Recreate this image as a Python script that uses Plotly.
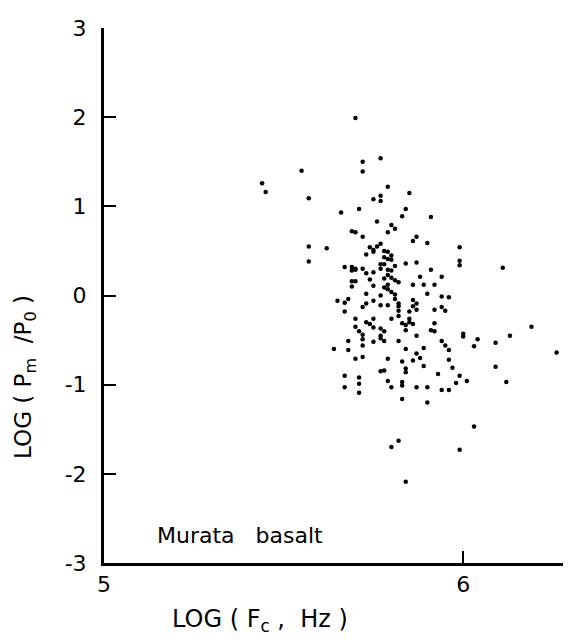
import plotly.graph_objects as go

# LOG(Fc, Hz) values
x_logfc = [
    5.70, 5.72, 5.72, 5.55, 5.44, 5.45, 5.57, 5.71, 5.66, 5.69, 5.70,
    5.77, 5.79, 5.85, 5.77, 5.75, 5.77, 5.84, 5.83, 5.91, 5.76, 5.80, 5.81, 5.79,
    5.72, 5.86, 5.87, 5.77, 5.76, 5.74, 5.75, 5.75, 5.78, 5.79, 5.73, 5.80, 5.78, 5.79, 5.80,
    5.78, 5.77, 5.81, 5.84, 5.87, 5.67, 5.69, 5.70, 5.69, 5.70, 5.72, 5.77, 5.79, 5.80,
    5.73, 5.75, 5.79, 5.80, 5.78, 5.81, 5.82, 5.74, 5.69, 5.70, 5.69, 5.75, 5.79, 5.86,
    5.79, 5.78, 5.80, 5.73, 5.77, 5.81, 5.65, 5.67, 5.68, 5.75, 5.81, 5.82, 5.86, 5.87,
    5.73, 5.72, 5.77, 5.79, 5.82, 5.86, 5.87, 5.67, 5.82, 5.85, 5.70, 5.75, 5.80, 5.82,
    5.73, 5.74, 5.85, 5.85, 5.83, 5.84, 5.86, 5.75, 5.77, 5.70, 5.71, 5.78, 5.84,
    5.57, 5.62, 5.57, 5.64,
    5.90, 5.99, 5.99, 5.99, 6.11, 5.91, 5.88, 5.94, 5.89, 5.92, 5.90, 5.94, 5.96, 5.92,
    5.94, 5.95, 5.92, 6.19, 5.91, 5.92,
    5.72, 5.72, 5.77, 5.77, 5.78, 5.75, 5.82, 5.87, 5.68, 5.72, 5.68, 5.84, 5.89, 5.87,
    5.88, 5.70, 5.72, 5.79, 5.83, 5.86, 5.89, 5.84, 5.84, 5.77, 5.78, 5.67, 5.71, 5.79,
    5.83, 5.83, 5.71, 5.67, 5.80, 5.87, 5.90, 5.71, 5.83, 5.90,
    6.00, 6.00, 6.04, 6.13, 5.94, 5.95, 5.96, 6.03, 6.09, 6.26, 5.96, 5.97, 6.09, 5.93,
    5.99, 6.01, 5.98, 6.12, 5.94, 5.96, 6.03,
    5.82, 5.80, 5.99, 5.84,
]

# LOG(Pm/P0) values
y_logp = [
    1.99, 1.50, 1.39, 1.40, 1.26, 1.16, 1.09, 0.97, 0.93, 0.72, 0.71,
    1.54, 1.22, 1.15, 1.12, 1.08, 1.06, 0.97, 0.89, 0.88, 0.83, 0.79, 0.75, 0.71,
    0.66, 0.61, 0.66, 0.58, 0.55, 0.54, 0.51, 0.49, 0.50, 0.49, 0.46, 0.45, 0.43, 0.41, 0.40,
    0.35, 0.35, 0.33, 0.36, 0.37, 0.32, 0.32, 0.29, 0.28, 0.30, 0.30, 0.30, 0.29, 0.28,
    0.25, 0.26, 0.23, 0.20, 0.19, 0.17, 0.15, 0.18, 0.16, 0.16, 0.10, 0.11, 0.12, 0.12,
    0.07, 0.09, 0.04, 0.02, 0.00, 0.01, -0.06, -0.08, -0.04, -0.06, -0.04, -0.09, -0.05, -0.09,
    -0.09, -0.13, -0.11, -0.11, -0.12, -0.12, -0.16, -0.18, -0.17, -0.18, -0.26, -0.26, -0.26, -0.23,
    -0.30, -0.32, -0.26, -0.30, -0.31, -0.33, -0.32, -0.36, -0.37, -0.35, -0.40, -0.40, -0.39,
    0.55, 0.53, 0.38, -0.60,
    0.59, 0.54, 0.39, 0.34, 0.31, 0.29, 0.21, 0.21, 0.12, 0.12, 0.02, -0.01, -0.02, -0.16,
    -0.13, -0.17, -0.31, -0.35, -0.39, -0.40,
    -0.44, -0.49, -0.45, -0.48, -0.51, -0.52, -0.51, -0.45, -0.51, -0.56, -0.61, -0.60, -0.59, -0.65,
    -0.70, -0.71, -0.69, -0.71, -0.74, -0.73, -0.79, -0.82, -0.86, -0.85, -0.84, -0.90, -0.92, -0.96,
    -0.97, -1.01, -0.99, -1.03, -1.03, -1.03, -1.03, -1.09, -1.16, -1.20,
    -0.43, -0.46, -0.49, -0.45, -0.51, -0.56, -0.61, -0.57, -0.53, -0.64, -0.72, -0.81, -0.80, -0.88,
    -0.90, -0.96, -0.98, -0.97, -1.06, -1.06, -1.47,
    -1.63, -1.70, -1.73, -2.09,
]

x_ticks = [5, 6]
x_ticklabels = ["5", "6"]
y_ticks = [-3, -2, -1, 0, 1, 2, 3]
y_ticklabels = ["-3", "-2", "-1", "0", "1", "2", "3"]

FONT = "DejaVu Sans"

fig = go.Figure()
fig.add_trace(go.Scatter(
    x=x_logfc, y=y_logp, mode="markers",
    marker=dict(color="black", size=4.5, line=dict(width=0)),
    showlegend=False, hoverinfo="skip",
))

fig.update_layout(
    width=571, height=644, autosize=False,
    margin=dict(l=96, r=8, t=15, b=89, pad=0),
    paper_bgcolor="white", plot_bgcolor="white",
    font=dict(family=FONT, color="black", size=22),
    xaxis=dict(
        range=[5, 6.30], tickvals=x_ticks, ticktext=x_ticklabels,
        showline=True, linewidth=3, linecolor="black",
        ticks="inside", ticklen=12, tickwidth=2, tickcolor="black",
        showgrid=False, zeroline=False, ticklabelstandoff=0,
        tickfont=dict(family=FONT, size=22),
    ),
    yaxis=dict(
        range=[-3, 3], tickvals=y_ticks, ticktext=y_ticklabels,
        showline=True, linewidth=3, linecolor="black",
        ticks="inside", ticklen=12, tickwidth=2, tickcolor="black",
        showgrid=False, zeroline=False, ticklabelstandoff=10,
        tickfont=dict(family=FONT, size=22),
    ),
    annotations=[
        dict(text="Murata   basalt", xref="paper", yref="paper",
             x=0.291, y=0.052, xanchor="center", yanchor="middle",
             showarrow=False, font=dict(family=FONT, size=22)),
        dict(text="LOG ( F<sub>c</sub> ,  Hz )", xref="paper", yref="paper",
             x=0.335, y=-0.108, xanchor="center", yanchor="middle",
             showarrow=False, font=dict(family=FONT, size=24)),
        dict(text="LOG ( P<sub>m</sub>  /P<sub>0</sub> )", xref="paper", yref="paper",
             x=-0.169, y=0.348, xanchor="center", yanchor="middle", textangle=-90,
             showarrow=False, font=dict(family=FONT, size=23)),
    ],
)

fig.write_html("out.html")
